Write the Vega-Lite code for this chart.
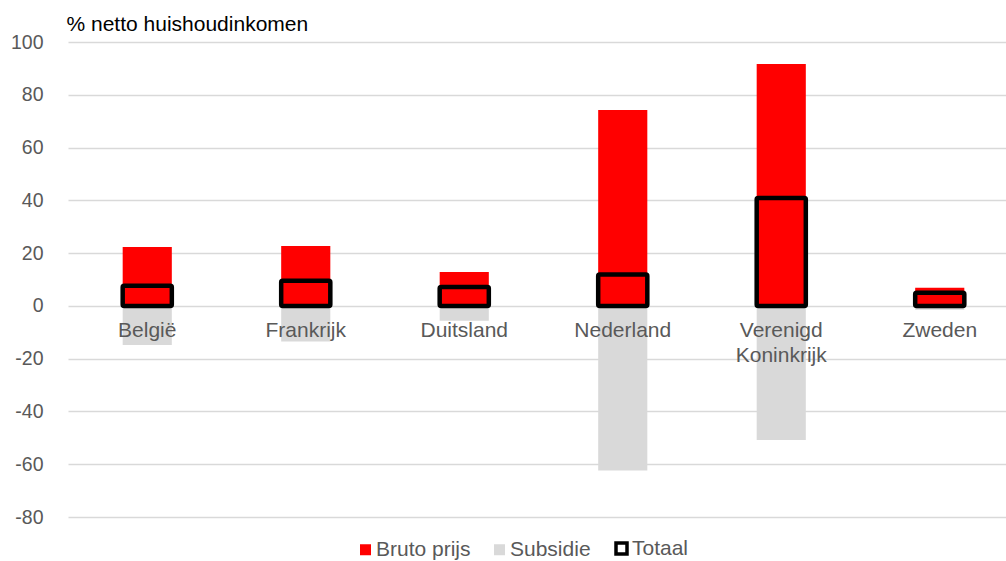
{
  "$schema": "https://vega.github.io/schema/vega-lite/v6.json",
  "width": 938,
  "height": 475,
  "autosize": {"type": "none"},
  "padding": {"left": 68, "top": 42, "right": 0, "bottom": 44},
  "background": "white",
  "config": {
    "view": {"stroke": null},
    "font": "Liberation Sans"
  },
  "data": {
    "values": [
      {"land": "België", "serie": "Bruto prijs", "waarde": 22.3},
      {"land": "België", "serie": "Subsidie", "waarde": -14.8},
      {"land": "België", "serie": "Totaal", "waarde": 7.6},
      {"land": "Frankrijk", "serie": "Bruto prijs", "waarde": 22.7},
      {"land": "Frankrijk", "serie": "Subsidie", "waarde": -13.5},
      {"land": "Frankrijk", "serie": "Totaal", "waarde": 9.5},
      {"land": "Duitsland", "serie": "Bruto prijs", "waarde": 12.8},
      {"land": "Duitsland", "serie": "Subsidie", "waarde": -5.6},
      {"land": "Duitsland", "serie": "Totaal", "waarde": 7.2},
      {"land": "Nederland", "serie": "Bruto prijs", "waarde": 74.2},
      {"land": "Nederland", "serie": "Subsidie", "waarde": -62.4},
      {"land": "Nederland", "serie": "Totaal", "waarde": 11.9},
      {"land": "Verenigd Koninkrijk", "serie": "Bruto prijs", "waarde": 91.7},
      {"land": "Verenigd Koninkrijk", "serie": "Subsidie", "waarde": -50.8},
      {"land": "Verenigd Koninkrijk", "serie": "Totaal", "waarde": 40.9},
      {"land": "Zweden", "serie": "Bruto prijs", "waarde": 6.9},
      {"land": "Zweden", "serie": "Subsidie", "waarde": -1.5},
      {"land": "Zweden", "serie": "Totaal", "waarde": 5.0}
    ]
  },
  "encoding": {
    "x": {
      "field": "land",
      "type": "nominal",
      "sort": null,
      "axis": null,
      "scale": {"range": [0, 951], "paddingInner": 0.69, "paddingOuter": 0.345}
    },
    "y": {
      "field": "waarde",
      "type": "quantitative",
      "scale": {"domain": [-80, 100], "nice": false, "zero": false},
      "axis": {
        "values": [-80, -60, -40, -20, 0, 20, 40, 60, 80, 100],
        "labelExpr": "toString(datum.value)",
        "domain": false,
        "ticks": false,
        "grid": true,
        "gridColor": "#d9d9d9",
        "gridWidth": 1.4,
        "labelFontSize": 19.5,
        "labelColor": "#595959",
        "labelPadding": 25,
        "title": "% netto huishoudinkomen",
        "titleAngle": 0,
        "titleAlign": "left",
        "titleBaseline": "alphabetic",
        "titleX": -2,
        "titleY": -12,
        "titleFontSize": 21,
        "titleFontWeight": "normal",
        "titleColor": "#000000"
      }
    }
  },
  "layer": [
    {
      "transform": [{"filter": "datum.serie !== 'Totaal'"}],
      "mark": {"type": "bar"},
      "encoding": {
        "y": {"field": "waarde", "type": "quantitative", "stack": null},
        "color": {
          "field": "serie",
          "type": "nominal",
          "scale": {"domain": ["Bruto prijs", "Subsidie", "Totaal"], "range": ["#ff0000", "#d9d9d9", "#ffffff"]},
          "legend": {
            "orient": "none",
            "legendX": 287,
            "legendY": 496,
            "direction": "horizontal",
            "title": null,
            "symbolType": "square",
            "symbolSize": 121,
            "symbolOpacity": 1,
            "labelFontSize": 21,
            "labelColor": "#595959",
            "labelOffset": 0,
            "columnPadding": 18,
            "encode": {
              "symbols": {
                "update": {
                  "stroke": {"signal": "datum.value === 'Totaal' ? '#000000' : 'transparent'"},
                  "strokeWidth": {"signal": "datum.value === 'Totaal' ? 3.5 : 0"}
                }
              }
            }
          }
        }
      }
    },
    {
      "transform": [{"filter": "datum.serie === 'Bruto prijs'"}],
      "mark": {"type": "text", "baseline": "alphabetic", "dy": 31, "fontSize": 21, "color": "#595959", "lineBreak": " ", "lineHeight": 25},
      "encoding": {
        "y": {"datum": 0},
        "text": {"field": "land"}
      }
    },
    {
      "transform": [{"filter": "datum.serie === 'Totaal'"}],
      "mark": {"type": "bar", "fill": "transparent", "stroke": "#000000", "strokeWidth": 4.5, "strokeJoin": "round", "cornerRadius": 1.5},
      "encoding": {
        "y": {"field": "waarde", "type": "quantitative", "stack": null}
      }
    }
  ]
}
